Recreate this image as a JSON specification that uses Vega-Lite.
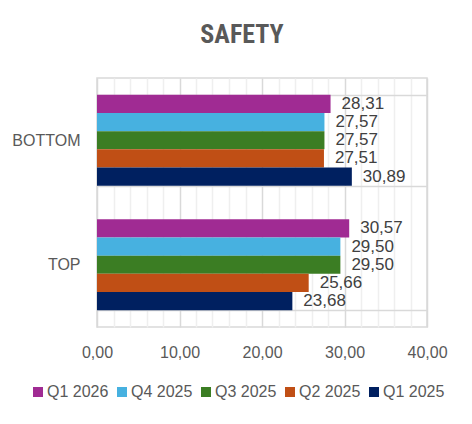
{
  "$schema": "https://vega.github.io/schema/vega-lite/v6.json",
  "width": 330,
  "height": 249,
  "autosize": {"type": "none"},
  "padding": {"left": 97, "top": 78, "right": 45, "bottom": 97},
  "background": "white",
  "title": {
    "text": "SAFETY",
    "font": "Liberation Sans Narrow, Roboto Condensed, Roboto",
    "fontSize": 26,
    "fontWeight": "bold",
    "color": "#595959",
    "anchor": "middle",
    "frame": "group",
    "dx": -20,
    "dy": 34,
    "baseline": "alphabetic",
    "offset": 35
  },
  "data": {
    "values": [
      {"segment": "BOTTOM", "quarter": "Q1 2026", "score": 28.31},
      {"segment": "BOTTOM", "quarter": "Q4 2025", "score": 27.57},
      {"segment": "BOTTOM", "quarter": "Q3 2025", "score": 27.57},
      {"segment": "BOTTOM", "quarter": "Q2 2025", "score": 27.51},
      {"segment": "BOTTOM", "quarter": "Q1 2025", "score": 30.89},
      {"segment": "TOP", "quarter": "Q1 2026", "score": 30.57},
      {"segment": "TOP", "quarter": "Q4 2025", "score": 29.50},
      {"segment": "TOP", "quarter": "Q3 2025", "score": 29.50},
      {"segment": "TOP", "quarter": "Q2 2025", "score": 25.66},
      {"segment": "TOP", "quarter": "Q1 2025", "score": 23.68}
    ]
  },
  "encoding": {
    "y": {
      "field": "segment",
      "type": "nominal",
      "sort": ["BOTTOM", "TOP"],
      "scale": {"paddingInner": 0.27, "paddingOuter": 0.135},
      "axis": {
        "title": null,
        "domain": false,
        "ticks": false,
        "labelFont": "Liberation Sans",
        "labelFontSize": 16,
        "labelColor": "#595959",
        "labelPadding": 17,
        "grid": true,
        "tickBand": "extent",
        "gridColor": "#d9d9d9",
        "gridWidth": 1.5
      }
    },
    "yOffset": {
      "field": "quarter",
      "sort": ["Q1 2026", "Q4 2025", "Q3 2025", "Q2 2025", "Q1 2025"],
      "scale": {"paddingInner": 0, "paddingOuter": 0}
    },
    "x": {
      "field": "score",
      "type": "quantitative",
      "scale": {"domain": [0, 40], "nice": false},
      "axis": {
        "title": null,
        "values": [0, 2, 4, 6, 8, 10, 12, 14, 16, 18, 20, 22, 24, 26, 28, 30, 32, 34, 36, 38, 40],
        "format": ".2f",
        "labelExpr": "datum.value % 10 === 0 ? datum.label : ''",
        "domain": false,
        "ticks": false,
        "labelFont": "Liberation Sans",
        "labelFontSize": 16,
        "labelColor": "#595959",
        "labelPadding": 17,
        "labelOverlap": false,
        "labelFlush": false,
        "labelBound": false,
        "gridColor": {"condition": {"test": "datum.value % 10 === 0", "value": "#d9d9d9"}, "value": "#efefef"},
        "gridWidth": 1.5
      }
    }
  },
  "layer": [
    {
      "mark": {"type": "bar"},
      "encoding": {
        "color": {
          "field": "quarter",
          "type": "nominal",
          "sort": ["Q1 2026", "Q4 2025", "Q3 2025", "Q2 2025", "Q1 2025"],
          "scale": {
            "domain": ["Q1 2026", "Q4 2025", "Q3 2025", "Q2 2025", "Q1 2025"],
            "range": ["#a02b93", "#47b1e0", "#3b7d23", "#c04f15", "#002060"]
          },
          "legend": {
            "orient": "none",
            "legendX": -67,
            "legendY": 306,
            "direction": "horizontal",
            "title": null,
            "symbolType": "square",
            "symbolSize": 100,
            "symbolStrokeWidth": 0,
            "symbolOpacity": 1,
            "labelFont": "Liberation Sans",
            "labelFontSize": 16,
            "labelColor": "#595959",
            "labelOffset": 1,
            "columnPadding": 5
          }
        }
      }
    },
    {
      "mark": {"type": "text", "align": "left", "baseline": "middle", "dx": 11, "font": "Liberation Sans", "fontSize": 17, "color": "#404040"},
      "encoding": {
        "text": {"field": "score", "type": "quantitative", "format": ".2f"}
      }
    }
  ],
  "config": {
    "locale": {"number": {"decimal": ",", "thousands": ".", "grouping": [3], "currency": ["", " €"]}},
    "view": {"stroke": "#d9d9d9", "strokeWidth": 1.5}
  }
}
